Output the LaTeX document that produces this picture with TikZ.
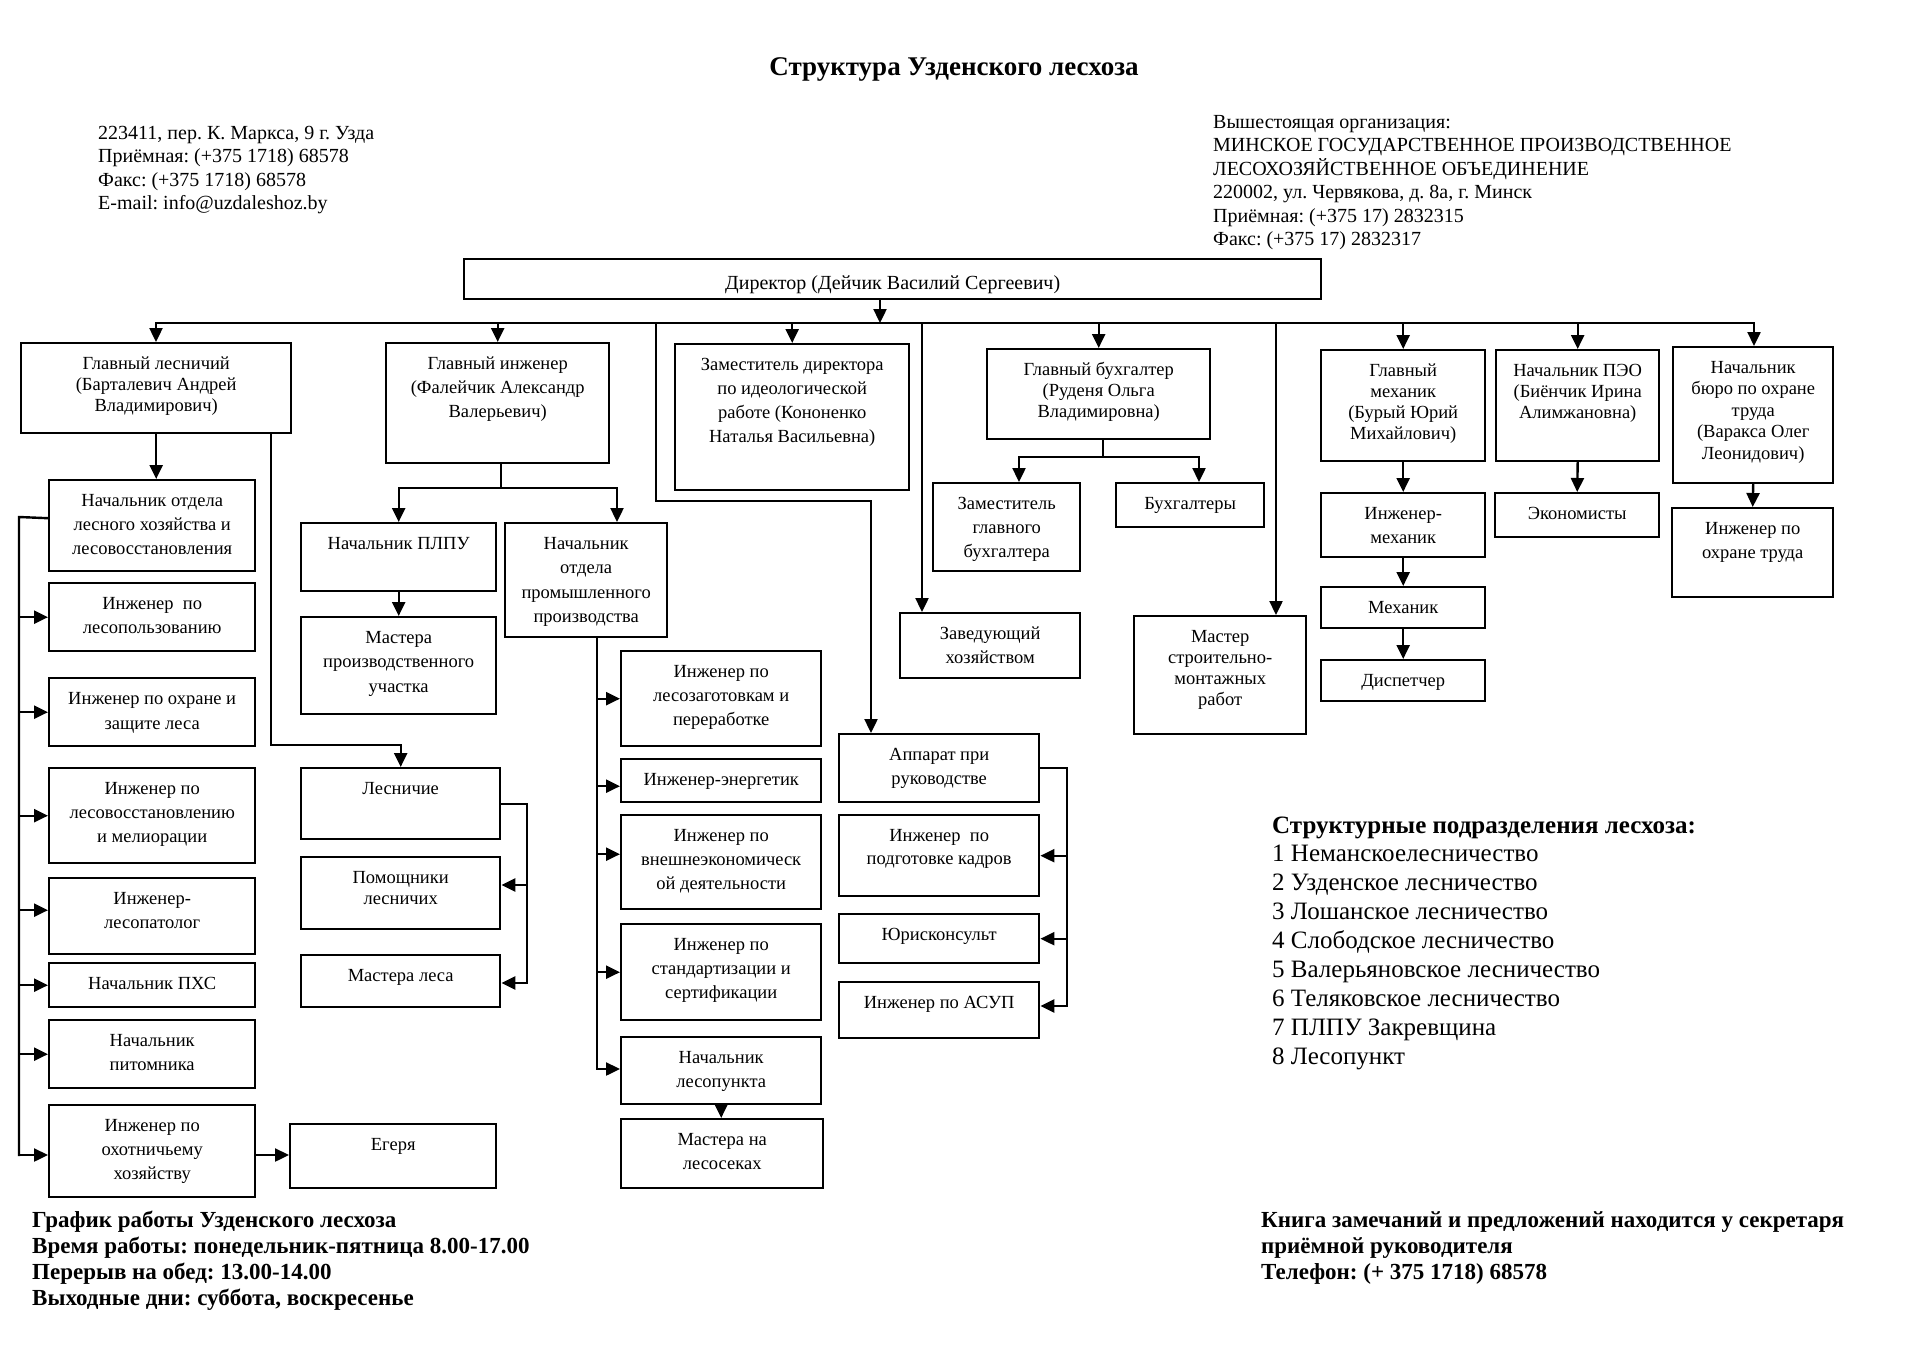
\documentclass[tikz,border=0pt]{standalone}
\usepackage{fontspec}
\setmainfont{Liberation Serif}
\frenchspacing
\usetikzlibrary{arrows.meta}
\tikzset{
  box/.style={draw, line width=2.4pt, inner sep=0pt, anchor=north west, fill=white},
  conn/.style={line width=2.4pt, line cap=rect},
  arr/.style={conn, -{Triangle[length=14pt,width=13pt]}},
}
\newcommand\bxstrut{26}
\newcommand\bx[7][24]{%
  \pgfmathsetmacro\bxw{#5-#3}\pgfmathsetmacro\bxh{#6-#4}%
  \node[box, minimum width=\bxw pt, minimum height=\bxh pt] (#2) at (#3,#4)
  {\parbox[c][\bxh pt][t]{\bxw pt}{\centering\fontsize{18.5}{#1}\selectfont\rule{0pt}{\bxstrut pt}#7\par}};}
\begin{document}
\begin{tikzpicture}[x=1pt,y=-1pt]
\useasboundingbox (0,0) rectangle (1920,1357);

% ---------- free texts ----------
\node[anchor=base, inner sep=0pt, font=\bfseries\fontsize{27}{32}\selectfont] (title) at (954,75) {Структура Узденского лесхоза};
\node[anchor=base west, inner sep=0pt] (addr) at (98,139) {\parbox[t]{500pt}{\fontsize{20}{23.5}\selectfont
223411, пер. К. Маркса, 9 г. Узда\\
Приёмная: (+375 1718) 68578\\
Факс: (+375 1718) 68578\\
E-mail: info@uzdaleshoz.by}};
\node[anchor=base west, inner sep=0pt] (org) at (1213,128) {\parbox[t]{680pt}{\fontsize{20}{23.5}\selectfont
Вышестоящая организация:\\
МИНСКОЕ ГОСУДАРСТВЕННОЕ ПРОИЗВОДСТВЕННОЕ\\
ЛЕСОХОЗЯЙСТВЕННОЕ ОБЪЕДИНЕНИЕ\\
220002, ул. Червякова, д. 8а, г. Минск\\
Приёмная: (+375 17) 2832315\\
Факс: (+375 17) 2832317}};
\node[anchor=base west, inner sep=0pt, font=\bfseries\fontsize{25}{29}\selectfont] (sphead) at (1272,833) {Структурные подразделения лесхоза:};
\node[anchor=base west, inner sep=0pt] (splist) at (1272,861) {\parbox[t]{600pt}{\fontsize{25}{29}\selectfont
1 Неманскоелесничество\\
2 Узденское лесничество\\
3 Лошанское лесничество\\
4 Слободское лесничество\\
5 Валерьяновское лесничество\\
6 Теляковское лесничество\\
7 ПЛПУ Закревщина\\
8 Лесопункт}};
\node[anchor=base west, inner sep=0pt] (sched) at (32,1227) {\parbox[t]{700pt}{\bfseries\fontsize{23}{26}\selectfont
График работы Узденского лесхоза\\
Время работы: понедельник-пятница 8.00-17.00\\
Перерыв на обед: 13.00-14.00\\
Выходные дни: суббота, воскресенье}};
\node[anchor=base west, inner sep=0pt] (book) at (1261,1227) {\parbox[t]{650pt}{\bfseries\fontsize{23}{26}\selectfont
Книга замечаний и предложений находится у секретаря\\
приёмной руководителя\\
Телефон: (+ 375 1718) 68578}};

% ---------- boxes ----------
\node[box, minimum width=857pt, minimum height=40pt] (dir) at (463,258)
  {\parbox[c][40pt][t]{857pt}{\centering\fontsize{20}{24}\selectfont\rule{0pt}{30pt}Директор (Дейчик Василий Сергеевич)\par}};

\bx[21]{gl}{20}{342}{290}{432}{Главный лесничий\\(Барталевич Андрей\\Владимирович)}
\bx[24]{gi}{385}{342}{608}{462}{Главный инженер\\(Фалейчик Александр\\Валерьевич)}
\bx[24]{zam}{674}{343}{908}{489}{Заместитель директора\\по идеологической\\работе (Кононенко\\Наталья Васильевна)}
\bx[21]{gb}{986}{348}{1209}{438}{Главный бухгалтер\\(Руденя Ольга\\Владимировна)}
\bx[21]{gm}{1320}{349}{1484}{460}{Главный\\механик\\(Бурый Юрий\\Михайлович)}
\bx[21]{peo}{1495}{349}{1658}{460}{Начальник ПЭО\\(Биёнчик Ирина\\Алимжановна)}
\bx[21.5]{bot}{1672}{346}{1832}{482}{Начальник\\бюро по охране\\труда\\(Варакса Олег\\Леонидович)}

\bx{nol}{48}{479}{254}{570}{Начальник отдела\\лесного хозяйства и\\лесовосстановления}
\bx{ilp}{48}{582}{254}{650}{Инженер~~по\\лесопользованию}
\bx[25]{ioz}{48}{677}{254}{745}{Инженер по охране и\\защите леса}
\bx{ilv}{48}{767}{254}{862}{Инженер по\\лесовосстановлению\\и мелиорации}
\bx{ilpat}{48}{877}{254}{953}{Инженер-\\лесопатолог}
\bx{pxs}{48}{962}{254}{1006}{Начальник ПХС}
\bx{pit}{48}{1019}{254}{1087}{Начальник\\питомника}
\bx{ioh}{48}{1104}{254}{1196}{Инженер по\\охотничьему\\хозяйству}
\bx{eger}{289}{1123}{495}{1187}{Егеря}

\bx{plpu}{300}{522}{495}{590}{Начальник ПЛПУ}
\bx[24.5]{mpu}{300}{616}{495}{713}{Мастера\\производственного\\участка}
\bx[24.5]{opp}{504}{522}{666}{636}{Начальник\\отдела\\промышленного\\производства}
\bx{les}{300}{767}{499}{838}{Лесничие}
\bx[21]{pom}{300}{856}{499}{928}{Помощники\\лесничих}
\bx{mles}{300}{954}{499}{1006}{Мастера леса}

\bx{ilz}{620}{650}{820}{745}{Инженер по\\лесозаготовкам и\\переработке}
\bx{ien}{620}{758}{820}{801}{Инженер-энергетик}
\bx{ive}{620}{814}{820}{908}{Инженер по\\внешнеэкономическ\\ой деятельности}
\bx{ist}{620}{923}{820}{1019}{Инженер по\\стандартизации и\\сертификации}
\bx{nlp}{620}{1036}{820}{1103}{Начальник\\лесопункта}
\bx{mls}{620}{1118}{822}{1187}{Мастера на\\лесосеках}

\bx{app}{838}{733}{1038}{801}{Аппарат при\\руководстве}
\bx[23]{ipk}{838}{814}{1038}{895}{Инженер~~по\\подготовке кадров}
\bx{jur}{838}{913}{1038}{962}{Юрисконсульт}
\bx{asup}{838}{981}{1038}{1037}{Инженер по АСУП}

\bx{zav}{899}{612}{1079}{677}{Заведующий\\хозяйством}
\bx{zgb}{932}{482}{1079}{570}{Заместитель\\главного\\бухгалтера}
\bx{buh}{1115}{482}{1263}{526}{Бухгалтеры}
\bx[21]{msm}{1133}{615}{1305}{733}{Мастер\\строительно-\\монтажных\\работ}

\bx{imex}{1320}{492}{1484}{556}{Инженер-\\механик}
\bx{mex}{1320}{586}{1484}{627}{Механик}
\bx{disp}{1320}{659}{1484}{700}{Диспетчер}
\bx{eco}{1494}{492}{1658}{536}{Экономисты}
\bx{iot}{1671}{507}{1832}{596}{Инженер по\\охране труда}

% ---------- connectors ----------
\coordinate (j0) at (880,323);
\coordinate (busL) at (156,323);
\coordinate (busR) at (1754,323);
\draw[arr] (dir.south -| j0) -- (j0);
\draw[conn] (busL) -- (busR);
\draw[arr] (busL) -- (gl.north -| busL);
\draw[arr] (gi.north |- busL) -- (gi.north);
\draw[arr] (zam.north |- busL) -- (zam.north);
\draw[arr] (gb.north |- busL) -- (gb.north);
\draw[arr] (gm.north |- busL) -- (gm.north);
\draw[arr] (peo.north |- busL) -- (peo.north);
\draw[arr] (busR) -- (bot.north -| busR);

\coordinate (v1) at (656,323);
\coordinate (k1) at (871,501);
\draw[arr] (v1) |- (k1) -- (app.north -| k1);
\coordinate (v2) at (922,323);
\draw[arr] (v2) -- (zav.north -| v2);
\coordinate (v3) at (1276,323);
\draw[arr] (v3) -- (msm.north -| v3);

% Главный лесничий
\draw[arr] (gl.south) -- (nol.north -| gl.south);
\coordinate (k2) at (271,745);
\draw[arr] (gl.south -| k2) -- (k2) -| (les.north);
\coordinate (lbt) at (19,517);
\coordinate (lbb) at (19,1155);
\draw[conn] ([yshift=7.5pt]nol.west) -- (lbt) -- (lbb);
\draw[arr] (lbt |- ilp.west) -- (ilp.west);
\draw[arr] (lbt |- ioz.west) -- (ioz.west);
\draw[arr] (lbt |- ilv.west) -- (ilv.west);
\coordinate (p1) at ([yshift=6pt]ilpat.west);
\draw[arr] (lbt |- p1) -- (p1);
\draw[arr] (lbt |- pxs.west) -- (pxs.west);
\draw[arr] (lbt |- pit.west) -- (pit.west);
\draw[arr] (lbb) -- (ioh.west |- lbb);
\draw[arr] (ioh.east |- lbb) -- (eger.west |- lbb);

% Главный инженер
\coordinate (k3) at (501,488);
\coordinate (k3b) at (617,488);
\draw[conn] (gi.south -| k3) -- (k3);
\draw[arr] (k3) -| (plpu.north);
\draw[arr] (k3) -- (k3b) -- (opp.north -| k3b);
\draw[arr] (plpu.south) -- (mpu.north);

\coordinate (ob) at (597,1069);
\draw[conn] (opp.south -| ob) -- (ob);
\draw[arr] (ob |- ilz.west) -- (ilz.west);
\coordinate (p2) at ([yshift=-5.5pt]ien.west);
\draw[arr] (ob |- p2) -- (p2);
\coordinate (p3) at ([yshift=8pt]ive.west);
\draw[arr] (ob |- p3) -- (p3);
\draw[arr] (ob |- ist.west) -- (ist.west);
\draw[arr] (ob) -- (nlp.west |- ob);
\draw[arr] (nlp.south) -- (mls.north -| nlp.south);

\coordinate (lrb) at (527,983);
\coordinate (lrp) at (527,885);
\draw[conn] (les.east) -| (lrb);
\draw[arr] (lrp) -- (pom.east |- lrp);
\draw[arr] (lrb) -- (mles.east |- lrb);

% Аппарат
\coordinate (arb) at (1067,1006);
\draw[conn] (app.east) -| (arb);
\draw[arr] (arb |- ipk.east) -- (ipk.east);
\draw[arr] (arb |- jur.east) -- (jur.east);
\draw[arr] (arb) -- (asup.east |- arb);

% Главный бухгалтер
\coordinate (kb) at (1103,457);
\coordinate (kb1) at (1019,457);
\coordinate (kb2) at (1199,457);
\draw[conn] (gb.south -| kb) -- (kb);
\draw[conn] (kb1) -- (kb2);
\draw[arr] (kb1) -- (zgb.north -| kb1);
\draw[arr] (kb2) -- (buh.north -| kb2);

% right columns
\draw[arr] (gm.south) -- (imex.north);
\draw[arr] (imex.south) -- (mex.north);
\draw[arr] (mex.south) -- (disp.north);
\draw[arr] (peo.south) -- (eco.north);
\draw[arr] (bot.south) -- (iot.north);
\end{tikzpicture}
\end{document}
